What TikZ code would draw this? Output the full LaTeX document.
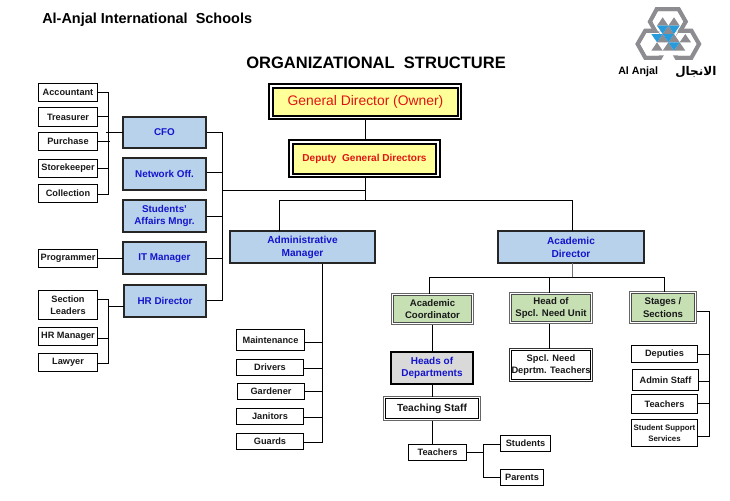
\documentclass[tikz,border=0pt]{standalone}
\usepackage{fontspec}
\setmainfont{Liberation Sans}
\newfontfamily\arabicfont[Script=Arabic]{DejaVu Sans}
\TeXXeTstate=1
\definecolor{bluefill}{RGB}{185,210,235}
\definecolor{greenfill}{RGB}{198,224,180}
\definecolor{yellowfill}{RGB}{255,255,153}
\definecolor{graybox}{RGB}{217,217,217}
\definecolor{titleblue}{RGB}{20,20,205}
\definecolor{redtext}{RGB}{225,20,20}
\definecolor{logogray}{RGB}{140,140,145}
\definecolor{logoblue}{RGB}{40,155,220}
\tikzset{
  x=0.75pt,y=-0.75pt,
  conn/.style={draw=black,line width=0.75pt,line cap=rect},
  base/.style={inner sep=0pt,align=center,font=\bfseries\fontsize{6.9}{9.3}\selectfont,text=black!90},
  smallbox/.style={base,draw=black,fill=white,line width=0.75pt},
  bluebox/.style={base,draw=black!85,fill=bluefill,line width=1.5pt,text=titleblue,font=\bfseries\fontsize{7.4}{9.6}\selectfont},
  frameout/.style={base,draw=black!60,line width=1pt,fill=white},
  greenbox/.style={base,draw=black!70,line width=0.9pt,fill=greenfill,font=\bfseries\fontsize{7.2}{9.6}\selectfont},
  yellowout/.style={base,draw=black,line width=1.4pt,fill=white},
  yellowbox/.style={base,draw=black,fill=yellowfill,line width=1.5pt,text=redtext},
  heading/.style={inner sep=0pt,anchor=west,text=black}
}
% name, style, x1, y1, x2, y2, text (outer edges of the stroke)
\newcommand{\bx}[7]{\node[#2,minimum width=#5*0.75pt-#3*0.75pt-\pgflinewidth,minimum height=#6*0.75pt-#4*0.75pt-\pgflinewidth,anchor=north west] (#1) at (#3,#4) {#7};}
\begin{document}
\begin{tikzpicture}
\useasboundingbox (0,0) rectangle (730,500);
% headings
\node[heading,font=\fontsize{10.85}{12}\selectfont\bfseries] (school) at (42,20) {Al-Anjal International\ \ Schools};
\node[heading,font=\fontsize{12.4}{14}\selectfont\bfseries] (title) at (246,63) {ORGANIZATIONAL\ \ STRUCTURE};
% left column
\bx{acc}{smallbox}{38}{83}{98}{102}{Accountant}
\bx{tre}{smallbox}{38}{107}{98}{127}{Treasurer}
\bx{pur}{smallbox}{38}{132}{98}{151}{Purchase}
\bx{sto}{smallbox}{38}{159}{98}{178}{Storekeeper}
\bx{col}{smallbox}{38}{184}{98}{203}{Collection}
\bx{pro}{smallbox}{38}{249}{98}{268}{Programmer}
\bx{sec}{smallbox}{38}{290}{98}{320}{Section\\Leaders}
\bx{hrm}{smallbox}{38}{327}{98}{346}{HR Manager}
\bx{law}{smallbox}{38}{353}{98}{372}{Lawyer}
% blue column
\bx{cfo}{bluebox}{122}{116}{207}{149}{CFO}
\bx{net}{bluebox}{122}{157}{207}{191}{Network Off.}
\bx{stu}{bluebox}{122}{199}{207}{233}{Students'\\Affairs Mngr.}
\bx{itm}{bluebox}{122}{241}{207}{275}{IT Manager}
\bx{hrd}{bluebox}{123}{284}{207}{318}{HR Director}
% top
\bx{gdo}{yellowout}{268}{83}{462}{120}{}
\bx{gd}{yellowbox,font=\fontsize{10.4}{12}\selectfont}{272}{87}{459}{117}{General Director (Owner)}
\bx{ddo}{yellowout}{288}{139}{441}{178}{}
\bx{dd}{yellowbox,font=\bfseries\fontsize{7.55}{9}\selectfont}{292}{143}{437}{175}{Deputy\ \ General Directors}
\coordinate (split) at (365.5,200.5);
\coordinate (join) at (365.5,190.5);
% managers
\bx{adm}{bluebox,font=\bfseries\fontsize{7.6}{9.6}\selectfont}{229}{230}{376}{264}{Administrative\\Manager}
\bx{aca}{bluebox,font=\bfseries\fontsize{7.6}{9.6}\selectfont}{497}{230}{645}{264}{Academic\\Director}
% admin staff
\bx{mai}{smallbox}{236}{329}{305}{351}{Maintenance}
\bx{dri}{smallbox}{236}{359}{304}{376}{Drivers}
\bx{gar}{smallbox}{237}{383}{305}{400}{Gardener}
\bx{jan}{smallbox}{236}{408}{304}{425}{Janitors}
\bx{gua}{smallbox}{236}{433}{304}{450}{Guards}
% academic
\bx{acoo}{frameout}{391}{293}{474}{325}{}
\bx{aco}{greenbox}{393}{295}{472}{323}{Academic\\Coordinator}
\bx{heao}{frameout}{509}{292}{593}{324}{}
\bx{hea}{greenbox}{511}{294}{591}{322}{Head of\\Spcl. Need Unit}
\bx{stao}{frameout}{629}{291}{697}{324}{}
\bx{sta}{greenbox}{631}{293}{695}{322}{Stages /\\Sections}
\bx{hod}{base,draw=black,line width=1.8pt,fill=graybox,text=titleblue,font=\bfseries\fontsize{7.5}{9.6}\selectfont}{390}{351}{474}{385}{Heads of\\Departments}
\bx{teao}{frameout}{383}{396}{481}{421}{}
\bx{tea}{base,draw=black,line width=0.75pt,fill=white,font=\bfseries\fontsize{7.7}{9}\selectfont}{385}{398}{479}{419}{Teaching Staff}
\bx{spco}{base,draw=black!80,line width=0.75pt,fill=white}{509}{348}{593}{382}{}
\bx{spc}{base,draw=black,line width=0.75pt,fill=white,font=\bfseries\fontsize{7}{9.6}\selectfont}{511}{350}{591}{380}{Spcl. Need\\Deprtm. Teachers}
\bx{tch}{smallbox}{408}{444}{467}{461}{Teachers}
\bx{std}{smallbox}{500}{435}{551}{452}{Students}
\bx{par}{smallbox}{500}{469}{544}{486}{Parents}
\bx{dep}{smallbox}{631}{345}{698}{363}{Deputies}
\bx{ads}{smallbox}{632}{369}{699}{391}{Admin Staff}
\bx{tcr}{smallbox}{631}{394}{698}{414}{Teachers}
\bx{sss}{smallbox,font=\bfseries\fontsize{5.9}{7.8}\selectfont}{631}{419}{698}{447}{Student Support\\Services}
% connectors
\begin{scope}[conn]
\draw (gdo.south -| 365.5,0) -- (ddo.north -| 365.5,0);
\draw (ddo.south -| split) -- (split);
\draw (adm.north -| 279.5,0) -- (279.5,200.5) -- (572.5,200.5) -- (aca.north -| 572.5,0);
\draw (join) -- (222.5,190.5);
% blue column to bus
\draw (cfo.east |- 0,132.5) -- (222.5,132.5) -- (222.5,300.5) -- (hrd.east |- 0,300.5);
\draw (net.east |- 0,172.5) -- (222.5,172.5);
\draw (stu.east |- 0,216.5) -- (222.5,216.5);
\draw (itm.east |- 0,258.5) -- (222.5,258.5);
% left groups
\draw (cfo.west |- 0,132.5) -- (106.5,132.5);
\draw (acc.east |- 0,92.5) -- (108.5,92.5) -- (108.5,194.5) -- (col.east |- 0,194.5);
\draw (tre.east |- 0,116.5) -- (108.5,116.5);
\draw (pur.east |- 0,141.5) -- (109.5,141.5);
\draw (sto.east |- 0,168.5) -- (108.5,168.5);
\draw (pro.east |- 0,258.5) -- (itm.west |- 0,258.5);
\draw (hrd.west |- 0,306.5) -- (108.5,306.5);
\draw (sec.east |- 0,299.5) -- (108.5,299.5) -- (108.5,363.5) -- (law.east |- 0,363.5);
\draw (hrm.east |- 0,338.5) -- (108.5,338.5);
% admin
\draw (adm.south -| 322.5,0) -- (322.5,442.5) -- (gua.east |- 0,442.5);
\draw (mai.east |- 0,342.5) -- (322.5,342.5);
\draw (dri.east |- 0,368.5) -- (322.5,368.5);
\draw (gar.east |- 0,391.5) -- (322.5,391.5);
\draw (jan.east |- 0,417.5) -- (322.5,417.5);
% academic
\draw[draw=black!55,line width=1pt] (aca.south -| 572.5,0) -- (572.5,277.5);
\draw (acoo.north -| 429.5,0) -- (429.5,277.5) -- (664.5,277.5) -- (stao.north -| 664.5,0);
\draw (549.5,277.5) -- (heao.north -| 549.5,0);
\draw (acoo.south -| 432.5,0) -- (hod.north -| 432.5,0);
\draw (hod.south -| 432.5,0) -- (teao.north -| 432.5,0);
\draw (teao.south -| 432.5,0) -- (tch.north -| 432.5,0);
\draw (heao.south -| 549.5,0) -- (spco.north -| 549.5,0);
\draw (tch.east |- 0,452.5) -- (483.5,452.5);
\draw (std.west |- 0,444.5) -- (483.5,444.5) -- (483.5,477.5) -- (par.west |- 0,477.5);
\draw (stao.east |- 0,311.5) -- (709.5,311.5) -- (709.5,436.5) -- (sss.east |- 0,436.5);
\draw (dep.east |- 0,354.5) -- (709.5,354.5);
\draw (ads.east |- 0,381.5) -- (709.5,381.5);
\draw (tcr.east |- 0,403.5) -- (709.5,403.5);
\end{scope}
% logo
\begin{scope}[shift={(600,0)},x=0.25pt,y=-0.25pt]
\begin{scope}[draw=logogray,line width=3.2pt,line join=miter]
\draw (170,28)--(236,28)--(257,65)--(236,100)--(170,100)--(150,65)--cycle;
\draw (113,132)--(136,92)--(180,92)--(203,132)--(180,173)--(136,173)--cycle;
\draw (297,132)--(274,92)--(230,92)--(207,132)--(230,173)--(274,173)--cycle;
\end{scope}
\fill[white] (174,35)--(232,35)--(249,65)--(232,94)--(174,94)--(158,65)--cycle;
\fill[white] (121,132)--(140,99)--(176,99)--(195,132)--(176,166)--(140,166)--cycle;
\fill[white] (289,132)--(270,99)--(234,99)--(215,132)--(234,166)--(270,166)--cycle;
\fill[white] (176,94)--(234,94)--(215,132)--(234,166)--(176,166)--(195,132)--cycle;
\foreach \px/\py in {188/52,222/52,205/77,188/102,222/102,256/102,171/127,205/127,239/127}
  \fill[logogray] (\px,\py)--(\px-17,\py+25)--(\px+17,\py+25)--cycle;
\foreach \px/\py in {188/77,222/77,171/102,205/102,222/127}
  \fill[logoblue] (\px-17,\py)--(\px+17,\py)--(\px,\py+25)--cycle;
\end{scope}
\node[inner sep=0pt,anchor=west,font=\bfseries\fontsize{8}{9}\selectfont] (ala) at (618,72) {Al Anjal};
\node[inner sep=0pt,anchor=west,font=\arabicfont\bfseries\fontsize{9}{10}\selectfont] (alb) at (675,72) {\beginR الانجال\endR};
\end{tikzpicture}
\end{document}
